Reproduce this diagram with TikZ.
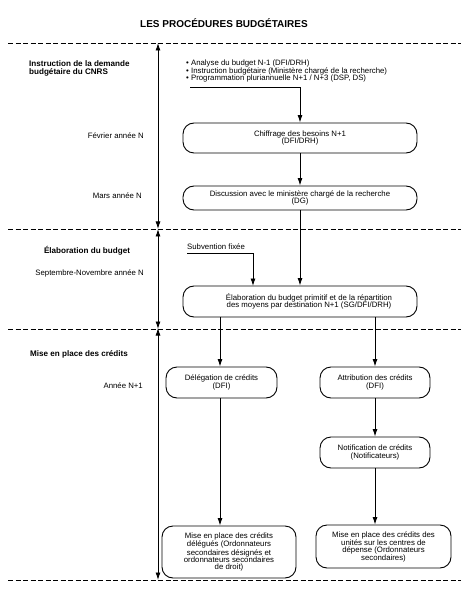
\documentclass[tikz,border=0pt]{standalone}
\usepackage{fontspec}
\setmainfont{Liberation Sans}
\usetikzlibrary{arrows.meta,calc}
\begin{document}
\begin{tikzpicture}[x=1pt,y=-1pt,
  txt/.style={font=\fontsize{7.8}{7.3}\selectfont, inner sep=0pt, align=center},
  lbl/.style={font=\fontsize{7.8}{7.3}\selectfont, inner sep=0pt},
  blbl/.style={font=\bfseries\fontsize{8.1}{8.8}\selectfont, inner sep=0pt, align=left},
  box/.style={draw, line width=0.9pt, rounded corners=11pt, txt},
  tip/.tip={Latex[length=7.5pt,width=5pt]},
  arr/.style={line width=0.9pt, -tip},
  tl/.style={line width=0.9pt, tip-tip},
  sepline/.style={line width=0.9pt, dash pattern=on 5pt off 2.5pt}
]
\fill[white] (0,0) rectangle (469,593);
\useasboundingbox (0,0) rectangle (469,593);

% title
\node[font=\bfseries\fontsize{10}{12}\selectfont, inner sep=0pt] (title) at (224,23) {LES PROCÉDURES BUDGÉTAIRES};

% separators
\foreach \n/\y in {s1/43, s2/229, s3/329, s4/580}{
  \coordinate (\n l) at (8,\y);
  \coordinate (\n r) at (461,\y);
  \coordinate (\n t) at (158,\y);
  \draw[sepline] (\n l) -- (\n r);
}
% timeline arrows
\draw[tl] (s1t) -- (s2t);
\draw[tl] (s2t) -- (s3t);
\draw[tl] ([yshift=1pt]s3t) -- (s4t);

% left labels
\node[blbl, anchor=west] (lab1) at (29,68.5) {Instruction de la demande\\budgétaire du CNRS};
\node[lbl, anchor=east] (fev) at (144,136) {Février année N};
\node[lbl, anchor=east] (mars) at (142,196) {Mars année N};
\node[blbl] (lab2) at (87,251) {Élaboration du budget};
\node[lbl, anchor=east] (sept) at (144,273) {Septembre-Novembre année N};
\node[blbl] (lab3) at (79,354) {Mise en place des crédits};
\node[lbl, anchor=east] (annee) at (143,386) {Année N+1};

% bullets
\node[txt, align=left, anchor=west] (bul) at (186,71) {• Analyse du budget N-1 (DFI/DRH)\\• Instruction budgétaire (Ministère chargé de la recherche)\\• Programmation pluriannuelle N+1 / N+3 (DSP, DS)};
\coordinate (b1) at (190,87);

% boxes
\node[box, minimum width=234pt, minimum height=30pt] (chif) at (300,138) {Chiffrage des besoins N+1\\(DFI/DRH)};
\node[box, minimum width=234pt, minimum height=24pt] (disc) at (300,198) {Discussion avec le ministère chargé de la recherche\\(DG)};
\node[box, minimum width=234pt, minimum height=31pt] (elab) at (300,301.5) {\hspace*{18pt}Élaboration du budget primitif et de la répartition\\\hspace*{18pt}des moyens par destination N+1 (SG/DFI/DRH)};
\node[box, minimum width=111pt, minimum height=31pt] (deleg) at (221.5,382.5) {Délégation de crédits\\(DFI)};
\node[box, minimum width=110pt, minimum height=31pt] (attr) at (375,382.5) {Attribution des crédits\\(DFI)};
\node[box, minimum width=110pt, minimum height=31pt] (notif) at (375,452.5) {Notification de crédits\\(Notificateurs)};
\node[box, minimum width=134pt, minimum height=52pt] (misel) at (229,552) {Mise en place des crédits\\délégués (Ordonnateurs\\secondaires désignés et\\ordonnateurs secondaires\\de droit)};
\node[box, minimum width=135pt, minimum height=43pt] (miser) at (383.5,546.5) {Mise en place des crédits des\\unités sur les centres de\\dépense (Ordonnateurs\\secondaires)};

% subvention
\node[lbl, anchor=west] (subv) at (187,247) {Subvention fixée};
\coordinate (sv1) at (187,253);
\coordinate (sv2) at (253,286);

% connectors
\draw[arr] (b1) -| (chif.north);
\draw[arr] (chif) -- (disc);
\draw[arr] (disc) -- (elab);
\draw[arr] (sv1) -| (sv2);
\draw[arr] (elab.south -| 220,0) -- (220,0 |- deleg.north);
\draw[arr] (elab.south -| attr.north) -- (attr.north);
\draw[arr] (attr) -- (notif);
\draw[arr] (220,0 |- deleg.south) -- (220,0 |- misel.north);
\draw[arr] (notif.south) -- (notif.south |- miser.north);
\end{tikzpicture}
\end{document}
